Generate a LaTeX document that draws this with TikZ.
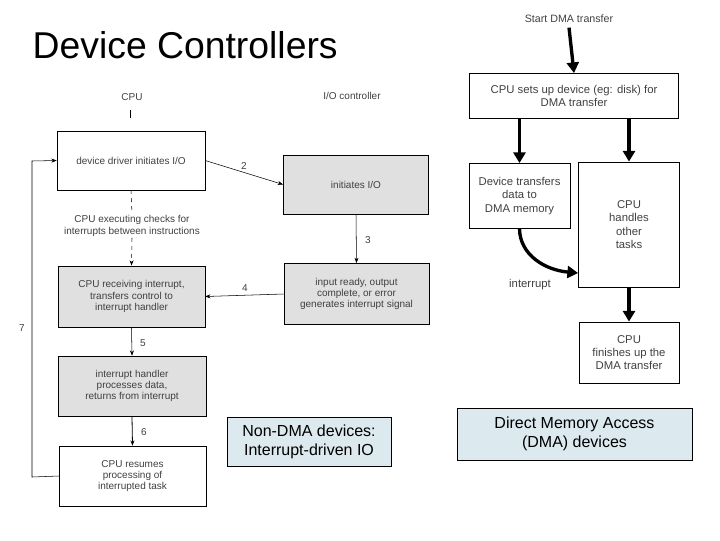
\documentclass[tikz,border=0pt]{standalone}
\usepackage{fontspec}
\setmainfont{Liberation Sans}
\usetikzlibrary{arrows.meta}
\begin{document}
\begin{tikzpicture}[x=0.75pt,y=-0.75pt,
 box/.style={draw,thin,minimum width=#1,align=center,inner sep=1pt},
 sm/.style={font=\fontsize{7.5}{8.5}\selectfont,align=center,text=black!75},
 gray/.style={fill=black!12},
 ar/.style={-{Stealth[length=4pt]},thin},
 big/.style={-{Triangle[length=8pt,width=9pt]},line width=2.5pt},
 lbl/.style={draw,fill=cyan!10!teal!15,align=center,font=\fontsize{12}{14}\selectfont}]
\useasboundingbox (0,0) rectangle (720,540);
\node[anchor=west,font=\fontsize{28}{30}\selectfont] (title) at (28,45) {Device Controllers};
% left
\node[sm] (cpu) at (132,97) {CPU};
\node[sm] (ioc) at (352,96) {I/O controller};
\draw (130,110) -- (130,118);
\node[draw,minimum width=111pt,minimum height=44pt,sm] (b1) at (131,160.5) {device driver initiates I/O};
\node[draw,gray,minimum width=109pt,minimum height=44pt,sm] (b2) at (356,184.5) {initiates I/O};
\node[draw,gray,minimum width=110pt,minimum height=46pt,sm] (b3) at (131.5,296.5) {CPU receiving interrupt,\\transfers control to\\interrupt handler};
\node[draw,gray,minimum width=109pt,minimum height=46pt,sm] (b4) at (356.5,294) {input ready, output\\complete, or error\\generates interrupt signal};
\node[draw,gray,minimum width=111pt,minimum height=45pt,sm] (b5) at (132,386) {interrupt handler\\processes data,\\returns from interrupt};
\node[draw,minimum width=110pt,minimum height=45pt,sm] (b6) at (132.5,476) {CPU resumes\\processing of\\interrupted task};
\draw[ar] (b1.east) ++(0,0) -- (b2.west);
\node[sm] (n2) at (244,166) {2};
\node[sm,fill=white,inner sep=1pt] (chk) at (132,226) {CPU executing checks for\\interrupts between instructions};
\draw[dashed] (b1.south) -- (chk.north);
\draw[dashed,ar] (chk.south) -- (b3.north);
\draw[ar] (b2.south) -- (b4.north); \node[sm] (n3) at (368,240) {3};
\draw[ar] (b4.west) -- (b3.east); \node[sm] (n4) at (245,288) {4};
\draw[ar] (b3.south) -- (b5.north); \node[sm] (n5) at (143,343) {5};
\draw[ar,semithick] (b5.south) -- (b6.north); \node[sm] (n6) at (144,432) {6};
\coordinate (c1) at (32,477); \coordinate (c2) at (32,161);
\draw[ar] (b6.west) -- (c1) -- (c2) -- (b1.west);
\node[sm] (n7) at (22,328) {7};
\node[lbl,minimum width=123pt,minimum height=37pt] (nd) at (309,442) {Non-DMA devices:\\Interrupt-driven IO};
% right
\node[sm,font=\fontsize{8}{9.5}\selectfont] (st) at (569,19) {Start DMA transfer};
\node[draw,sm,font=\fontsize{8.5}{10}\selectfont,minimum width=157pt,minimum height=34pt] (r1) at (574,96) {CPU sets up device (eg: disk) for\\DMA transfer};
\node[draw,sm,font=\fontsize{8.5}{10}\selectfont,minimum width=76pt,minimum height=49pt] (r2) at (519.5,196) {Device transfers\\data to\\DMA memory};
\node[draw,sm,font=\fontsize{8.5}{10}\selectfont,minimum width=76pt,minimum height=94pt] (r3) at (629,224.5) {CPU\\handles\\other\\tasks};
\node[draw,sm,font=\fontsize{8.5}{10}\selectfont,minimum width=75pt,minimum height=46pt] (r4) at (629,352.5) {CPU\\finishes up the\\DMA transfer};
\draw[big] (st.south) -- (r1.north);
\draw[big] (r1.south -| r2) -- (r2.north);
\draw[big] (r1.south -| r3) -- (r3.north);
\draw[big] (r3.south) -- (r4.north);
\draw[big] (r2.south) .. controls (520,255) and (545,270) .. (r3.west |- 0,273);
\node[sm,font=\fontsize{8.5}{10}\selectfont] (int) at (530,285) {interrupt};
\node[lbl,minimum width=176pt,minimum height=39pt] (dm) at (574.5,434) {Direct Memory Access\\(DMA) devices};
\end{tikzpicture}
\end{document}
